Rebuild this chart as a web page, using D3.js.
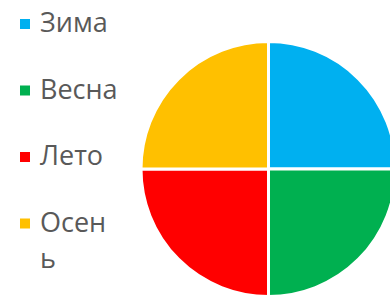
<!DOCTYPE html><html><head><meta charset="utf-8"><script src="https://cdn.jsdelivr.net/npm/d3@7"></script>
<style>body{margin:0;background:#fff;overflow:hidden}</style></head><body>
<script>
const categories = ["Зима", "Весна", "Лето", "Осень"];
const values = [25, 25, 25, 25];
const colors = ["#00B0F0", "#00B050", "#FF0000", "#FFC000"];

const W = 390, H = 297;
const svg = d3.select("body").append("svg").attr("width", W).attr("height", H);

const cx = 268.5, cy = 169, r = 127.5;
const pie = d3.pie().sort(null).value(d => d.v);
const arc = d3.arc().innerRadius(0).outerRadius(r);
const data = categories.map((c, i) => ({c, v: values[i], col: colors[i]}));
const color = d3.scaleOrdinal().domain(categories).range(colors);

svg.append("g").attr("transform", `translate(${cx},${cy})`)
  .selectAll("path").data(pie(data)).join("path")
  .attr("d", arc).attr("fill", d => color(d.data.c))
  .attr("stroke", "#fff").attr("stroke-width", 3).attr("stroke-linejoin", "round");

// legend
const fontSize = 27, maxW = 80, lineH = 36;
const legend = svg.append("g");
const y0 = 32, step = 66.5;
categories.forEach((c, i) => {
  const by = y0 + i * step;
  legend.append("rect").attr("x", 20).attr("y", by - 13).attr("width", 10).attr("height", 10)
    .attr("fill", color(c));
  const t = legend.append("text").attr("x", 40).attr("y", by)
    .attr("font-family", "'Open Sans'").attr("font-size", fontSize).attr("fill", "#595959");
  // wrap by characters to max width
  let lines = [], cur = "";
  const probe = t.append("tspan");
  for (const ch of c) {
    probe.text(cur + ch);
    if (probe.node().getComputedTextLength() > maxW && cur) { lines.push(cur); cur = ch; }
    else cur += ch;
  }
  lines.push(cur);
  probe.remove();
  lines.forEach((l, j) => t.append("tspan").attr("x", 40).attr("dy", j ? lineH : 0).text(l));
});
</script></body></html>
